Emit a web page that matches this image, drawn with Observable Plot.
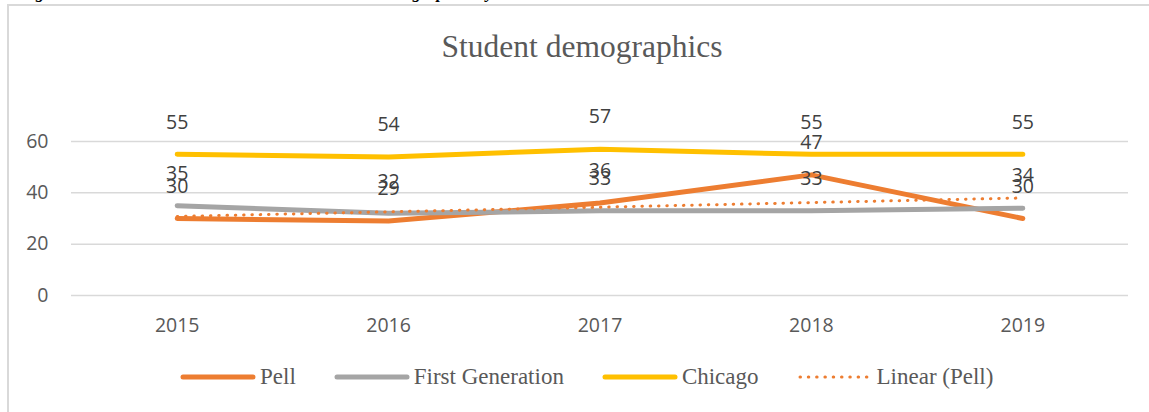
<!DOCTYPE html>
<html>
<head>
<meta charset="utf-8">
<script src="https://cdn.jsdelivr.net/npm/d3@7"></script>
<script src="https://cdn.jsdelivr.net/npm/@observablehq/plot@0.6"></script>
<style>
  html, body { margin: 0; padding: 0; background: #fff; overflow: hidden; }
  #wrap { position: relative; width: 1149px; height: 412px; overflow: hidden; background: #fff; }
  #caption { position: absolute; left: 20px; top: -16.5px; font: bold italic 17px "Liberation Serif", "Times New Roman", serif; line-height: 17px; color: #000; white-space: nowrap; }
  #frame { position: absolute; left: 7px; top: 4px; width: 1200px; height: 500px; border: 2px solid #d9d9d9; box-sizing: border-box; }
  #title { position: absolute; left: 0; width: 1164px; top: 31px; text-align: center; font: 31.5px "Liberation Serif", "Times New Roman", serif; line-height: 31px; color: #595959; }
  #chart { position: absolute; left: 0; top: 90px; }
  #legend { position: absolute; left: 180px; top: 364px; display: flex; align-items: center; gap: 38px; font: 23px "Liberation Serif", "Times New Roman", serif; color: #595959; white-space: nowrap; }
  .item { display: flex; align-items: center; gap: 4px; }
  .item svg { display: block; }
</style>
</head>
<body>
<div id="wrap">
  <div id="caption">Figure 4. Historical Trends in the Overall Student demographics by Cohort</div>
  <div id="frame"></div>
  <div id="title">Student demographics</div>
  <div id="chart"></div>
  <div id="legend"></div>
</div>
<script>
// ---- data ----
const years = [2015, 2016, 2017, 2018, 2019];
const pell = [30, 29, 36, 47, 30];
const firstGeneration = [35, 32, 33, 33, 34];
const chicago = [55, 54, 57, 55, 55];
const seriesNames = ["Pell", "First Generation", "Chicago"];
const seriesColors = ["#ED7D31", "#A5A5A5", "#FFC000"];
const trendName = "Linear (Pell)";
const yTicks = [0, 20, 40, 60];

// ---- table built from the arrays ----
const seriesValues = [pell, firstGeneration, chicago];
const rows = [];
seriesValues.forEach((vals, k) => {
  vals.forEach((v, i) => rows.push({ year: years[i], series: seriesNames[k], value: v }));
});
const pellRows = rows.filter(d => d.series === "Pell");

const sans = "'Open Sans', 'DejaVu Sans', sans-serif";

const lineMarks = seriesNames.map((name, k) =>
  Plot.line(rows.filter(d => d.series === name), {
    x: "year", y: "value",
    stroke: seriesColors[k], strokeWidth: 5,
    strokeLinecap: "round", strokeLinejoin: "round"
  })
);

const chart = Plot.plot({
  width: 1149,
  height: 255,
  marginLeft: 71,
  marginRight: 21,
  marginTop: 51,
  marginBottom: 50,
  style: { fontFamily: sans, background: "transparent", overflow: "visible" },
  x: { type: "linear", domain: [2014.5, 2019.5], ticks: years, tickFormat: d => String(d) },
  y: { domain: [0, 60], ticks: yTicks },
  marks: [
    Plot.ruleY(yTicks, { stroke: "#d9d9d9", strokeWidth: 1.5 }),
    Plot.axisY({ ticks: yTicks, tickSize: 0, tickPadding: 23, fontSize: 19.5, fill: "#595959", label: null }),
    Plot.axisX({ ticks: years, tickFormat: d => String(d), tickSize: 0, tickPadding: 23, fontSize: 19.5, fill: "#595959", label: null }),
    ...lineMarks,
    Plot.linearRegressionY(pellRows, {
      x: "year", y: "value", ci: 0,
      stroke: seriesColors[0], strokeWidth: 3,
      strokeDasharray: "0.5 7.8", strokeLinecap: "round"
    }),
    Plot.text(rows, {
      x: "year", y: "value", text: d => String(d.value),
      dy: -32, fontSize: 19.5, fill: "#404040", fontFamily: sans
    })
  ]
});
document.getElementById("chart").appendChild(chart);

// ---- legend ----
const legend = document.getElementById("legend");
const legendEntries = seriesNames.map((n, k) => ({ name: n, color: seriesColors[k], dotted: false }))
  .concat([{ name: trendName, color: seriesColors[0], dotted: true }]);
legendEntries.forEach(e => {
  const item = document.createElement("div");
  item.className = "item";
  const dash = e.dotted ? `stroke-width="3" stroke-dasharray="0.5 7.8"` : `stroke-width="5"`;
  item.innerHTML = `<svg width="76" height="12"><line x1="3" x2="${e.dotted ? 70 : 73}" y1="6" y2="6" stroke="${e.color}" ${dash} stroke-linecap="round"/></svg><span>${e.name}</span>`;
  legend.appendChild(item);
});
</script>
</body>
</html>
